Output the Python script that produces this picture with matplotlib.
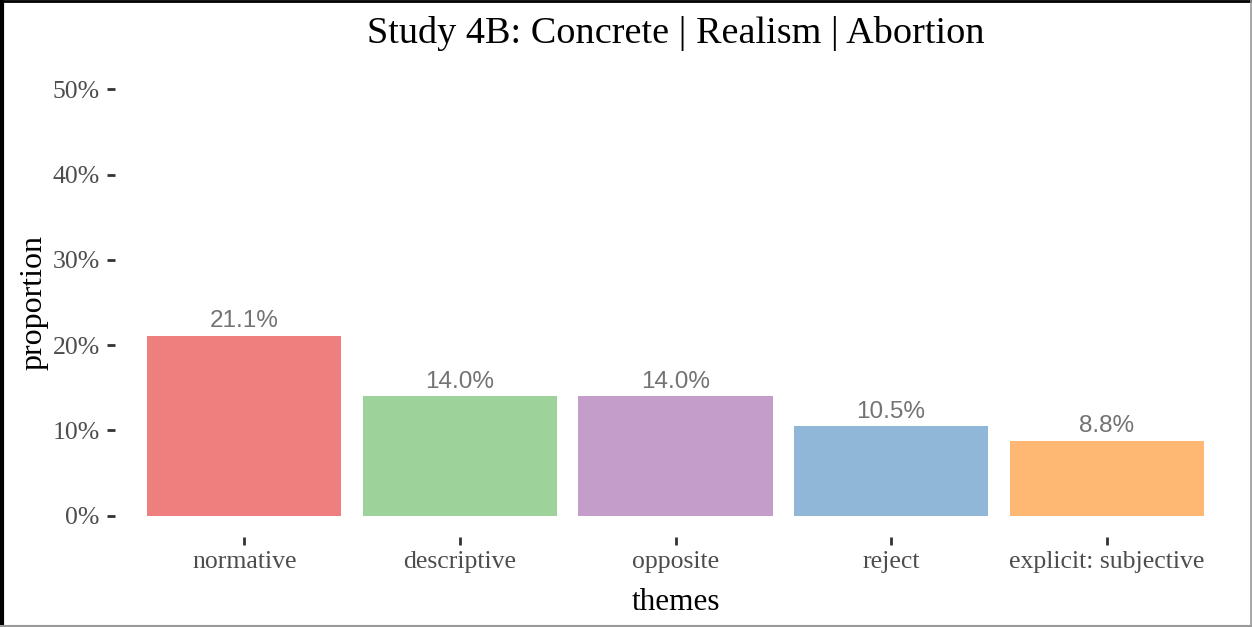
import matplotlib
matplotlib.use("Agg")
import matplotlib.pyplot as plt
from matplotlib.lines import Line2D
from matplotlib.ticker import PercentFormatter

# DATA
themes = ["normative", "descriptive", "opposite", "reject", "explicit: subjective"]
proportions = [0.211, 0.140, 0.140, 0.105, 0.088]
labels = ["21.1%", "14.0%", "14.0%", "10.5%", "8.8%"]
colors = ["#EF7F7F", "#9DD29B", "#C49DCB", "#90B7D7", "#FFB774"]
y_ticks = [0.0, 0.1, 0.2, 0.3, 0.4, 0.5]

SERIF = ["Liberation Serif", "DejaVu Serif"]
SANS = ["Liberation Sans", "DejaVu Sans"]

fig = plt.figure(figsize=(12.52, 6.27), dpi=100)
ax = fig.add_axes([115 / 1252, 90 / 627, 1121 / 1252, 469 / 627])

x = list(range(len(themes)))
ax.bar(x, proportions, width=0.9, color=colors)
for xi, v, lab in zip(x, proportions, labels):
    ax.annotate(lab, (xi, v), xytext=(0, 6), textcoords="offset points",
                ha="center", va="baseline", fontsize=17.5, color="#737373",
                family=SANS)

ax.set_xlim(-0.6, len(themes) - 0.4)
ax.set_ylim(-0.025, 0.525)
ax.set_xticks(x)
ax.set_xticklabels(themes, family=SERIF, fontsize=18.5, color="#4D4D4D")
ax.set_yticks(y_ticks)
ax.yaxis.set_major_formatter(PercentFormatter(1.0, decimals=0))
for t in ax.get_yticklabels():
    t.set_family(SERIF)
    t.set_fontsize(18.5)
    t.set_color("#4D4D4D")
ax.tick_params(axis="both", length=6, width=2, color="#333333")
ax.tick_params(axis="y", pad=5)
ax.tick_params(axis="x", pad=4)
for s in ax.spines.values():
    s.set_visible(False)

ax.set_xlabel("themes", family=SERIF, fontsize=22.5, labelpad=11)
ax.set_ylabel("proportion", family=SERIF, fontsize=23, labelpad=3)
ax.set_title("Study 4B: Concrete | Realism | Abortion", family=SERIF,
             fontsize=27.5, pad=18)

# screenshot frame
fig.add_artist(Line2D([0.0012, 0.0012], [0, 1], transform=fig.transFigure, color="black", lw=3))
fig.add_artist(Line2D([0, 1], [0.998, 0.998], transform=fig.transFigure, color="black", lw=2))
fig.add_artist(Line2D([0.9992, 0.9992], [0, 1], transform=fig.transFigure, color="#999999", lw=1.2))
fig.add_artist(Line2D([0, 1], [0.002, 0.002], transform=fig.transFigure, color="#999999", lw=1.5))

fig.savefig("out.png", dpi=100, facecolor="white")
